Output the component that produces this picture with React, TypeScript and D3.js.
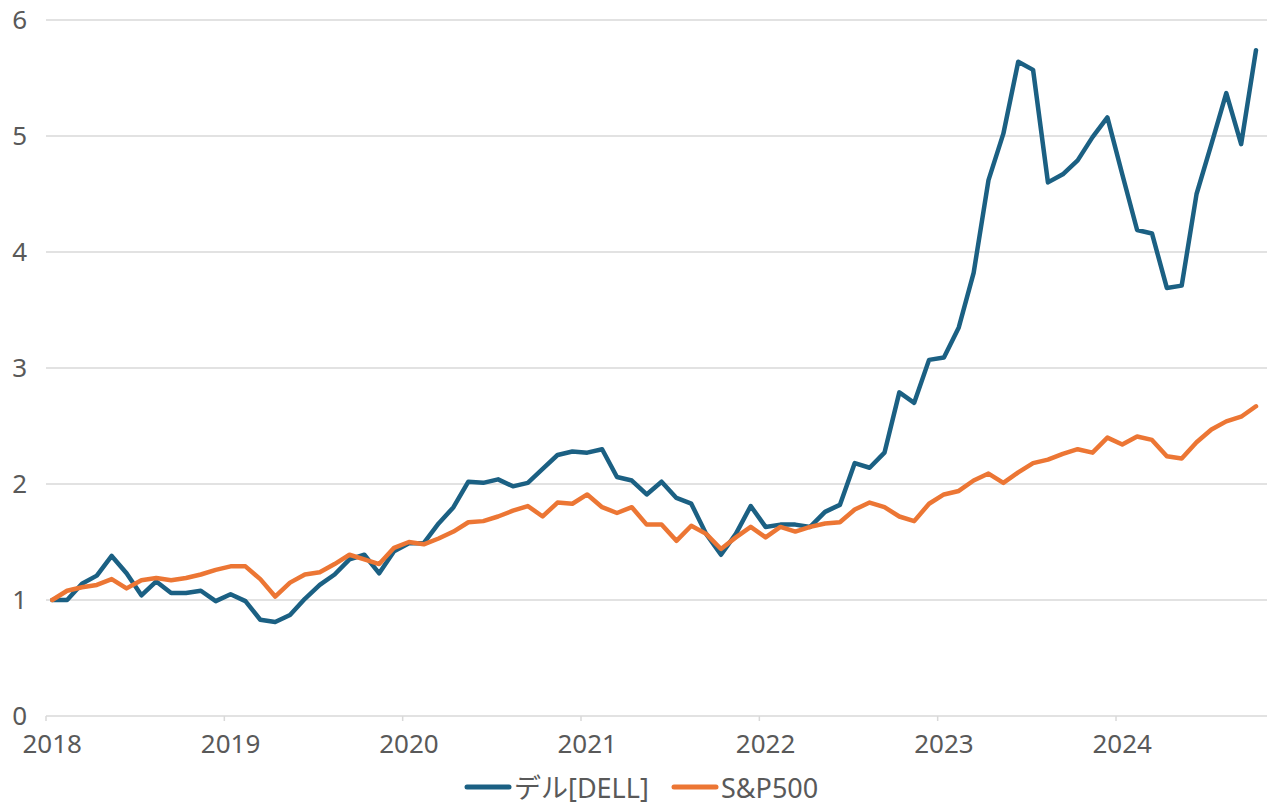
import React from 'react';
import * as d3 from 'd3';

const YEARS = ['2018', '2019', '2020', '2021', '2022', '2023', '2024'];
const Y_TICKS = [0, 1, 2, 3, 4, 5, 6];
const SERIES_NAMES = ['デル[DELL]', 'S&P500'];

// monthly, 2018-01 .. 2024-10
const DELL = [
  1.00, 1.00, 1.14, 1.21, 1.38, 1.23, 1.04, 1.16, 1.06, 1.06, 1.08, 0.99,
  1.05, 0.99, 0.83, 0.81, 0.87, 1.01, 1.13, 1.22, 1.35, 1.39, 1.23, 1.42,
  1.49, 1.49, 1.66, 1.80, 2.02, 2.01, 2.04, 1.98, 2.01, 2.13, 2.25, 2.28,
  2.27, 2.30, 2.06, 2.03, 1.91, 2.02, 1.88, 1.83, 1.57, 1.39, 1.57, 1.81,
  1.63, 1.65, 1.65, 1.63, 1.76, 1.82, 2.18, 2.14, 2.27, 2.79, 2.70, 3.07,
  3.09, 3.35, 3.82, 4.62, 5.02, 5.64, 5.57, 4.60, 4.67, 4.79, 4.99, 5.16,
  4.67, 4.19, 4.16, 3.69, 3.71, 4.50, 4.93, 5.37, 4.93, 5.74,
];

const SP500 = [
  1.00, 1.08, 1.11, 1.13, 1.18, 1.10, 1.17, 1.19, 1.17, 1.19, 1.22, 1.26,
  1.29, 1.29, 1.18, 1.03, 1.15, 1.22, 1.24, 1.31, 1.39, 1.35, 1.31, 1.45,
  1.50, 1.48, 1.53, 1.59, 1.67, 1.68, 1.72, 1.77, 1.81, 1.72, 1.84, 1.83,
  1.91, 1.80, 1.75, 1.80, 1.65, 1.65, 1.51, 1.64, 1.57, 1.44, 1.54, 1.63,
  1.54, 1.63, 1.59, 1.63, 1.66, 1.67, 1.78, 1.84, 1.80, 1.72, 1.68, 1.83,
  1.91, 1.94, 2.03, 2.09, 2.01, 2.10, 2.18, 2.21, 2.26, 2.30, 2.27, 2.40,
  2.34, 2.41, 2.38, 2.24, 2.22, 2.36, 2.47, 2.54, 2.58, 2.67,
];

const COLORS = ['#1b6083', '#ec7634'];
const FONT = '"Noto Sans", "Noto Sans CJK JP", sans-serif';

export default function App() {
  const W = 1279;
  const H = 805;
  const left = 46;
  const right = 1267;
  const top = 20;
  const bottom = 716;
  const pointOffset = 0.42; // data points sit a bit after month start

  const x = d3.scaleLinear().domain([0, 82.16]).range([left, right]);
  const y = d3.scaleLinear().domain([0, 6]).range([bottom, top]);

  const line = d3
    .line<number>()
    .x((_, i) => x(i + pointOffset))
    .y((d) => y(d));

  const series = [DELL, SP500];
  const textColor = '#595959';
  const gridColor = '#d9d9d9';
  const fs = 26;
  const legendFs = 27;

  return (
    <svg
      width={W}
      height={H}
      style={{ position: 'absolute', left: 0, top: 0, background: '#fff' }}
      fontFamily={FONT}
    >
      {Y_TICKS.map((t) => (
        <g key={t}>
          {t > 0 && (
            <line x1={left} x2={right} y1={y(t)} y2={y(t)} stroke={gridColor} strokeWidth={1.5} />
          )}
          <text
            x={27}
            y={y(t) - 1}
            textAnchor="end"
            dominantBaseline="central"
            fontSize={fs}
            fill={textColor}
          >
            {t}
          </text>
        </g>
      ))}
      <line x1={left} x2={right} y1={y(0)} y2={y(0)} stroke={gridColor} strokeWidth={1.5} />
      {YEARS.map((yr, k) => (
        <g key={yr}>
          <line
            x1={x(k * 12)}
            x2={x(k * 12)}
            y1={y(0)}
            y2={y(0) + 5}
            stroke={gridColor}
            strokeWidth={1.5}
          />
          <text
            x={x(k * 12 + pointOffset)}
            y={743}
            textAnchor="middle"
            dominantBaseline="central"
            fontSize={fs}
            fill={textColor}
          >
            {yr}
          </text>
        </g>
      ))}
      {series.map((s, k) => (
        <path
          key={k}
          d={line(s) || ''}
          fill="none"
          stroke={COLORS[k]}
          strokeWidth={4.5}
          strokeLinejoin="round"
          strokeLinecap="round"
        />
      ))}
      <g>
        <line x1={467} x2={509} y1={787} y2={787} stroke={COLORS[0]} strokeWidth={5} strokeLinecap="round" />
        <text x={514} y={787} dominantBaseline="central" fontSize={legendFs} fill={textColor}>
          {SERIES_NAMES[0]}
        </text>
        <line x1={674} x2={716} y1={787} y2={787} stroke={COLORS[1]} strokeWidth={5} strokeLinecap="round" />
        <text x={721} y={787} dominantBaseline="central" fontSize={legendFs} fill={textColor}>
          {SERIES_NAMES[1]}
        </text>
      </g>
    </svg>
  );
}
